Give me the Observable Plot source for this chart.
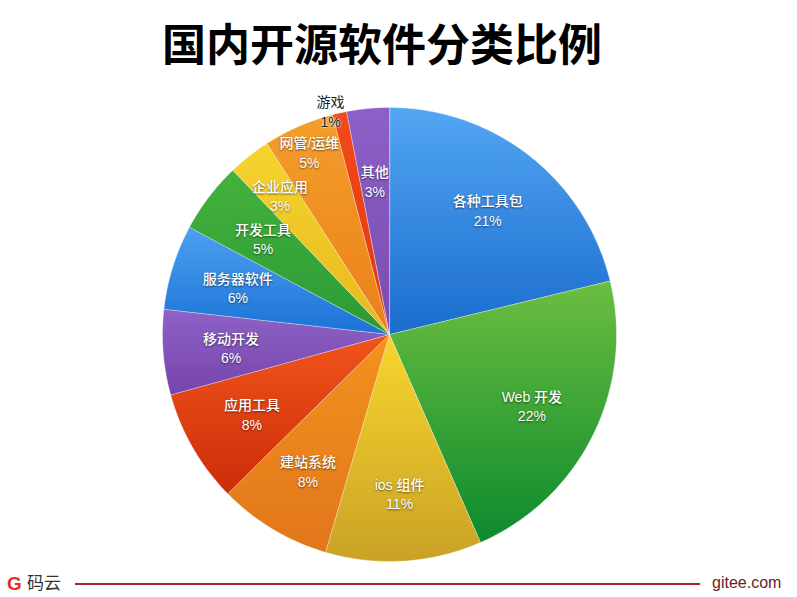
<!DOCTYPE html>
<html>
<head>
<meta charset="utf-8">
<script src="https://cdn.jsdelivr.net/npm/d3@7"></script>
<script src="https://cdn.jsdelivr.net/npm/@observablehq/plot@0.6"></script>
<style>
  html, body { margin: 0; padding: 0; background: #fff; }
  body { width: 797px; height: 597px; position: relative; overflow: hidden; }
  #title { position: absolute; left: 382px; top: 20px; transform: translateX(-50%);
           font: 700 44px "Noto Sans CJK SC", sans-serif; line-height: 44px; white-space: nowrap; color: #000; }
  #chart { position: absolute; left: 0; top: 80px; }
  #logo { position: absolute; left: 7px; top: 574px; font: 900 19px "Liberation Sans", sans-serif; line-height: 19px; color: #e0301e; }
  #brand { position: absolute; left: 27px; top: 573px; font: 400 17px "Noto Sans CJK SC", sans-serif; line-height: 17px; color: #333; }
  #rule { position: absolute; left: 75px; top: 583px; width: 625px; height: 1.5px; background: #a82828; }
  #site { position: absolute; left: 712px; top: 575px; font: 400 16px "Liberation Sans", sans-serif; line-height: 16px; color: #6a1e1e; }
</style>
</head>
<body>
<div id="title">国内开源软件分类比例</div>
<div id="chart"></div>
<div id="logo">G</div>
<div id="brand">码云</div>
<div id="rule"></div>
<div id="site">gitee.com</div>
<script>
// ---- data ----
const categories = ["各种工具包", "Web 开发", "ios 组件", "建站系统", "应用工具", "移动开发", "服务器软件", "开发工具", "企业应用", "网管/运维", "游戏", "其他"];
const shares = [21, 22, 11, 8, 8, 6, 6, 5, 3, 5, 1, 3];

// ---- styles (gradient top / bottom colours per slice) ----
const topColors    = ["#52a6f2", "#6cbe40", "#f7d62e", "#f2921e", "#f2541c", "#8e62c6", "#4ca0f0", "#44b23c", "#f5d42e", "#f39e2c", "#f24a18", "#8c60c6"];
const bottomColors = ["#1a6ccd", "#0c8a2e", "#c9a226", "#e2761a", "#cc2c08", "#7644ac", "#1c72d6", "#2a9a36", "#e8b81e", "#ea8018", "#e03810", "#7a4cb2"];
// label distance from centre (fraction of radius); default 0.70
const labelRadius = { "企业应用": 0.78, "网管/运维": 0.88, "游戏": 1.02, "其他": 0.68 };
// small angular nudge for crowded labels (radians)
const labelNudge = { "游戏": -0.035 };

const data = categories.map((name, i) => ({ name, value: shares[i], i }));
const arcs = d3.pie().sort(null).value(d => d.value)(data);

const slicePts = arcs.flatMap(a => {
  const fill = `url(#grad${a.data.i})`;
  const pts = [{ name: a.data.name, x: 0, y: 0, fill }];
  const n = Math.max(2, Math.ceil((a.endAngle - a.startAngle) / 0.01));
  for (let k = 0; k <= n; k++) {
    const t = a.startAngle + (a.endAngle - a.startAngle) * k / n;
    pts.push({ name: a.data.name, x: Math.sin(t), y: Math.cos(t), fill });
  }
  return pts;
});

const labels = arcs.map(a => {
  const mid = (a.startAngle + a.endAngle) / 2 + (labelNudge[a.data.name] ?? 0);
  const r = labelRadius[a.data.name] ?? 0.70;
  return { name: a.data.name, x: r * Math.sin(mid), y: r * Math.cos(mid),
           text: a.data.name + "\n" + a.data.value + "%", outside: r > 0.95 };
});

const R = 227, cx = 389, cy = 254, W = 797, H = 490;
const chart = Plot.plot({
  width: W, height: H,
  marginLeft: cx - R, marginRight: W - (cx + R),
  marginTop: cy - R, marginBottom: H - (cy + R),
  x: { domain: [-1, 1], axis: null },
  y: { domain: [-1, 1], axis: null },
  color: { type: "identity" },
  style: { background: "transparent", overflow: "visible" },
  marks: [
    Plot.line(slicePts, { x: "x", y: "y", z: "name", fill: "fill", stroke: "#ffffff", strokeOpacity: 0.45, strokeWidth: 0.8, curve: "linear-closed" }),
    Plot.text(labels.filter(d => !d.outside), { x: "x", y: "y", text: "text", fill: "#ffffff", fontSize: 14, lineHeight: 1.4,
      fontFamily: "'Liberation Sans', 'Noto Sans CJK SC', sans-serif", fontWeight: 500 }),
    Plot.text(labels.filter(d => d.outside), { x: "x", y: "y", text: "text", fill: "#222222", fontSize: 14, lineHeight: 1.4,
      fontFamily: "'Liberation Sans', 'Noto Sans CJK SC', sans-serif", fontWeight: 400 })
  ]
});

// gradients
const defs = d3.select(chart).insert("defs", ":first-child");
topColors.forEach((c, i) => {
  const g = defs.append("linearGradient").attr("id", "grad" + i)
    .attr("x1", 0).attr("y1", 0).attr("x2", 0).attr("y2", 1);
  g.append("stop").attr("offset", "0%").attr("stop-color", c);
  g.append("stop").attr("offset", "100%").attr("stop-color", bottomColors[i]);
});
d3.select(chart).selectAll("text").each(function () {
  const f = d3.select(this.parentNode).attr("fill") || this.getAttribute("fill");
  const light = (f || "").toLowerCase() === "#ffffff";
  d3.select(this).style("text-shadow", light ? "0 1px 2px rgba(0,0,0,0.55)" : "0 0 2px #fff, 0 0 2px #fff");
});
document.getElementById("chart").appendChild(chart);
</script>
</body>
</html>
